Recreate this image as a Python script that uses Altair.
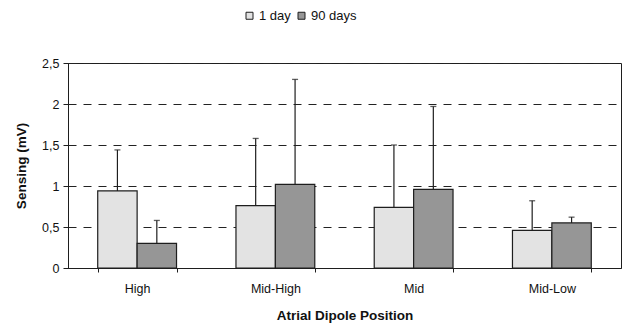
import altair as alt
import pandas as pd

positions = ["High", "Mid-High", "Mid", "Mid-Low"]
series = ["1 day", "90 days"]
day1 = [0.94, 0.76, 0.74, 0.46]
day1_upper = [1.44, 1.58, 1.50, 0.82]
day90 = [0.30, 1.02, 0.96, 0.55]
day90_upper = [0.58, 2.30, 1.97, 0.62]
y_ticks = [0, 0.5, 1, 1.5, 2, 2.5]

rows = []
for i, p in enumerate(positions):
    rows.append(dict(pos=p, series=series[0], value=day1[i], upper=day1_upper[i]))
    rows.append(dict(pos=p, series=series[1], value=day90[i], upper=day90_upper[i]))
df = pd.DataFrame(rows)

FONT = "Liberation Sans"
INK = "#1e1e1e"

x_enc = alt.X(
    "pos:N",
    sort=positions,
    title="Atrial Dipole Position",
    scale=alt.Scale(paddingInner=0.43, paddingOuter=0.215),
    axis=alt.Axis(
        labelAngle=0,
        tickBand="extent",
        tickSize=4,
        tickColor=INK,
        domainColor=INK,
        labelFontSize=12.5,
        labelPadding=10,
        labelColor="#111",
        titleFontSize=13.5,
        titleFontWeight="bold",
        titlePadding=14,
        titleColor="#111",
    ),
)
xoff = alt.XOffset("series:N", sort=series, scale=alt.Scale(paddingInner=0, paddingOuter=0))

y_scale = alt.Scale(domain=[0, 2.5], nice=False)

bars = alt.Chart(df).mark_bar(stroke=INK, strokeWidth=1.2).encode(
    x=x_enc,
    xOffset=xoff,
    y=alt.Y(
        "value:Q",
        scale=y_scale,
        title="Sensing (mV)",
        axis=alt.Axis(
            values=y_ticks,
            labelExpr="replace(format(datum.value, '~g'), '.', ',')",
            grid=True,
            gridDash=[8, 7],
            gridColor="#222",
            gridWidth=1,
            tickSize=5,
            tickColor=INK,
            domainColor=INK,
            labelFontSize=12.5,
            labelPadding=4,
            labelColor="#111",
            titleFontSize=13.5,
            titleFontWeight="bold",
            titlePadding=13,
            titleColor="#111",
        ),
    ),
    color=alt.Color(
        "series:N",
        sort=series,
        scale=alt.Scale(domain=series, range=["#e3e3e3", "#969696"]),
        legend=alt.Legend(
            title=None,
            orient="none",
            direction="horizontal",
            legendX=175,
            legendY=-54,
            symbolType="square",
            symbolSize=49,
            symbolStrokeColor=INK,
            symbolStrokeWidth=1,
            labelFontSize=13,
            labelOffset=3,
            columnPadding=4,
            labelColor="#111",
        ),
    ),
)

err = alt.Chart(df).mark_rule(color=INK, strokeWidth=1.2).encode(
    x=alt.X("pos:N", sort=positions),
    xOffset=xoff,
    y=alt.Y("value:Q", scale=y_scale),
    y2="upper:Q",
)

caps = alt.Chart(df).mark_tick(color=INK, thickness=1.3, size=6).encode(
    x=alt.X("pos:N", sort=positions),
    xOffset=xoff,
    y=alt.Y("upper:Q", scale=y_scale),
)

chart = (
    alt.layer(bars, err, caps)
    .properties(
        width=553,
        height=205,
        autosize=alt.AutoSizeParams(type="none"),
        padding={"left": 68, "top": 63, "right": 2, "bottom": 59},
        background="white",
    )
    .configure(font=FONT)
    .configure_view(stroke=INK, strokeWidth=1)
)

chart.save("out.html", embed_options={"renderer": "svg", "actions": False})
